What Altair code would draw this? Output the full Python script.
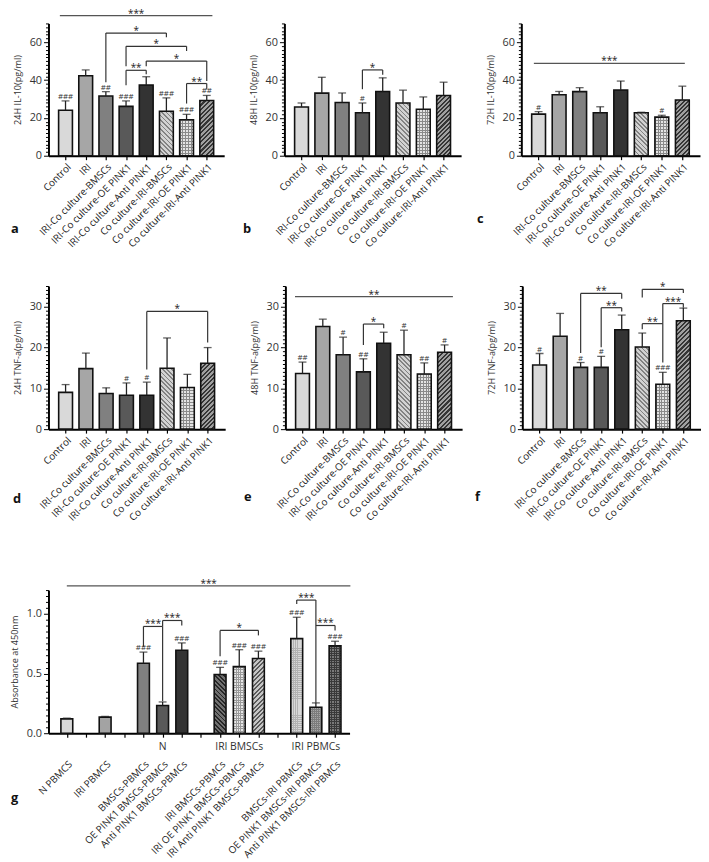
import json
import math
import altair as alt
import pandas as pd

FONT = "Open Sans"

# ---------------- data ----------------
GROUPS8 = ["Control", "IRI", "IRI-Co culture-BMSCs", "IRI-Co culture-OE PINK1",
           "IRI-Co culture-Anti PINK1", "Co culture-IRI-BMSCs",
           "Co culture-IRI-OE PINK1", "Co culture-IRI-Anti PINK1"]
IDX8 = [0, 1, 2, 3, 4, 5, 6, 7]

IL10_24_MEAN = [24.1, 42.3, 31.6, 26.1, 37.4, 23.5, 19.0, 29.2]
IL10_24_SD = [4.9, 3.1, 2.3, 2.9, 4.4, 7.1, 2.9, 2.7]
IL10_24_HASH = ["###", "", "##", "###", "", "###", "###", "##"]
IL10_24_BRACKETS = [(2, 5, 64.9, 38.9, 62.7, "*"), (3, 6, 57.9, 47.3, 55.4, "*"),
                    (4, 7, 50.1, 47.3, 39.5, "*"), (3, 4, 45.2, 37.3, 43.1, "**"),
                    (6, 7, 38.2, 27.6, 35.2, "**")]
IL10_24_SPANS = [(-0.28, 7.28, 74.1, "***")]

IL10_48_MEAN = [25.8, 33.1, 28.2, 22.7, 34.0, 27.9, 24.6, 31.9]
IL10_48_SD = [2.1, 8.4, 5.0, 5.2, 7.2, 6.8, 6.5, 7.0]
IL10_48_HASH = ["", "", "", "#", "", "", "", ""]
IL10_48_BRACKETS = [(3, 4, 45.4, 35.2, 42.9, "*")]
IL10_48_SPANS = []

IL10_72_MEAN = [22.0, 32.3, 33.9, 22.7, 34.8, 22.7, 20.4, 29.5]
IL10_72_SD = [1.3, 1.7, 2.1, 3.2, 4.7, 0.3, 1.0, 7.3]
IL10_72_HASH = ["#", "", "", "", "", "", "#", ""]
IL10_72_BRACKETS = []
IL10_72_SPANS = [(-0.23, 7.12, 48.9, "***")]

TNF_24_MEAN = [9.0, 14.8, 8.7, 8.3, 8.3, 14.9, 10.2, 16.1]
TNF_24_SD = [1.9, 3.8, 1.4, 3.0, 3.2, 7.4, 3.2, 3.85]
TNF_24_HASH = ["", "", "", "#", "#", "", "", ""]
TNF_24_BRACKETS = [(4, 7, 28.8, 14.6, 21.2, "*")]
TNF_24_SPANS = []

TNF_48_MEAN = [13.6, 25.1, 18.2, 14.0, 21.0, 18.2, 13.5, 18.8]
TNF_48_SD = [2.8, 1.8, 4.3, 3.2, 2.7, 6.0, 2.7, 1.8]
TNF_48_HASH = ["##", "", "#", "##", "", "#", "##", "#"]
TNF_48_BRACKETS = [(3, 4, 25.7, 20.6, 24.7, "*")]
TNF_48_SPANS = [(-0.37, 7.41, 32.4, "**")]

TNF_72_MEAN = [15.7, 22.7, 15.1, 15.1, 24.3, 20.1, 11.0, 26.5]
TNF_72_SD = [2.8, 5.6, 1.2, 2.7, 3.6, 3.4, 2.9, 3.1]
TNF_72_HASH = ["#", "", "#", "#", "", "", "###", ""]
TNF_72_BRACKETS = [(2, 4, 33.2, 18.6, 31.9, "**"), (3, 4, 29.7, 20.0, 28.8, "**"),
                   (5, 7, 34.2, 32.2, 33.3, "*"), (5, 6, 25.8, 24.4, 16.3, "**"),
                   (6, 7, 30.7, 25.8, 29.7, "***")]
TNF_72_SPANS = []

G_LABELS = ["N PBMCS", "", "IRI PBMCS", "", "BMSCs-PBMCs", "OE PINK1 BMSCs-PBMCs",
            "Anti PINK1 BMSCs-PBMCs", "", "IRI BMSCs-PBMCs", "IRI OE PINK1 BMSCs-PBMCs",
            "IRI Anti PINK1 BMSCs-PBMCs", "", "BMSCs-IRI PBMCs", "OE PINK1 BMSCs-IRI PBMCs",
            "Anti PINK1 BMSCs-IRI PBMCs"]
G_IDX = [0, 2, 4, 5, 6, 8, 9, 10, 12, 13, 14]
G_MEAN = [0.12, 0.135, 0.586, 0.232, 0.696, 0.492, 0.558, 0.627, 0.793, 0.218, 0.732]
G_SD = [0.006, 0.006, 0.094, 0.030, 0.061, 0.060, 0.142, 0.061, 0.179, 0.036, 0.039]
G_HASH = ["", "", "###", "", "###", "###", "###", "###", "###", "", "###"]
G_BRACKETS = [(4, 5, 0.895, 0.724, 0.268, "***"), (5, 6, 0.945, 0.895, 0.903, "***"),
              (8, 10, 0.862, 0.646, 0.82, "*"), (12, 13, 1.116, 1.083, 0.254, "***"),
              (13, 14, 0.903, 0.903, 0.862, "***")]
G_SPANS = [(0.0, 14.8, 1.235, "***")]
G_GROUP_IDX = [5, 9, 13]
G_GROUP_TXT = ["N", "IRI BMSCs", "IRI PBMCs"]

# ---------------- styles ----------------
FILL8 = {0: "#d9d9d9", 1: "#a6a6a6", 2: "#808080", 3: "#595959", 4: "#333333"}
PAT8 = {5: ("back", "#d2d2d2", "#828282", 3.2, 1.3),
        6: ("check", "#e4e4e4", "#8a8a8a", 3.0, 1.0),
        7: ("fwd", "#a0a0a0", "#363636", 3.2, 1.5)}
FILLG = {0: "#d9d9d9", 2: "#a3a3a3", 4: "#808080", 5: "#595959", 6: "#333333"}
PATG = {8: ("back", "#707070", "#262626", 3.2, 1.4),
        9: ("check", "#e8e8e8", "#9a9a9a", 2.6, 1.0),
        10: ("fwd", "#c6c6c6", "#5a5a5a", 3.2, 1.4),
        12: ("check", "#d8d8d8", "#b2b2b2", 2.0, 0.8),
        13: ("check", "#a8a8a8", "#7c7c7c", 2.0, 0.8),
        14: ("check", "#7a7a7a", "#3a3a3a", 2.4, 1.0)}


def gradient(kind, wpx, hpx, period, lw, bg, fg):
    hpx = max(hpx, 2.0)
    r = hpx / wpx
    if kind in ("back", "fwd"):
        s = (1 + r) / (1 + r * r)
        n = max(1, int(round((wpx + hpx) / (math.sqrt(2) * period))))
        if kind == "back":
            pts = dict(x1=0, y1=1, x2=s, y2=1 - s * r)
        else:
            pts = dict(x1=0, y1=0, x2=s, y2=s * r)
    elif kind == "h":
        n = max(1, int(round(hpx / period)))
        pts = dict(x1=0, y1=0, x2=0, y2=1)
    else:
        n = max(1, int(round(wpx / period)))
        pts = dict(x1=0, y1=0, x2=1, y2=0)
    d = min(lw / period, 0.9)
    stops = []
    for k in range(n):
        o0, o1, o2 = k / n, (k + d) / n, (k + 1) / n
        stops += [{"offset": round(o0, 5), "color": fg}, {"offset": round(o1, 5), "color": fg},
                  {"offset": round(o1, 5), "color": bg}, {"offset": round(o2, 5), "color": bg}]
    out = {"gradient": "linear"}
    out.update({k: round(v, 5) for k, v in pts.items()})
    out["stops"] = stops
    return out


def panel(labels, idxs, means, sds, hashes, brackets, spans, ymax, minor, major, fmt,
          ytitle, letter, ldx, ldy, W, H, xdom, bw, fills, pats, label_pad=2, groups=None):
    test = f"abs(datum.value/{major} - round(datum.value/{major})) < 1e-6"
    nmin = int(round(ymax / minor))
    yvals = [round(i * minor, 4) for i in range(nmin + 1)]
    xaxis = alt.Axis(values=list(range(len(labels))),
                     labelExpr=f"{json.dumps(labels)}[datum.value]",
                     labelAngle=-45, labelOverlap=False, labelFlush=False, labelBound=False,
                     labelLimit=400, labelFontSize=10, labelPadding=label_pad, labelColor="#222",
                     tickSize=4, tickColor="#000", tickWidth=1.2,
                     domainColor="#000", domainWidth=2, grid=False, title=None)
    yaxis = alt.Axis(values=yvals, format=fmt, labelExpr=f"({test}) ? datum.label : ''",
                     tickSize={"condition": {"test": test, "value": 5}, "value": 3},
                     tickColor="#000", tickWidth=1, domainColor="#000", domainWidth=2,
                     labelFontSize=11, labelColor="#333", labelPadding=2, grid=False,
                     title=ytitle, titleFontSize=9.2, titleFontWeight="normal",
                     titleColor="#333", titlePadding=7)
    xs = alt.Scale(domain=xdom, nice=False, zero=False)
    ys = alt.Scale(domain=[0, ymax], nice=False, zero=False)

    def X(f):
        return alt.X(f, type="quantitative", scale=xs, axis=xaxis)

    def Y(f):
        return alt.Y(f, type="quantitative", scale=ys, axis=yaxis)

    df = pd.DataFrame({"i": idxs, "m": means, "e": sds, "h": hashes})
    df["fill"] = [fills.get(i, "#000") for i in idxs]
    layers = []
    plain = df[df["i"].isin(list(fills.keys()))]
    layers.append(alt.Chart(plain).mark_bar(size=bw, stroke="#111", strokeWidth=1.6,
                                            orient="vertical").encode(
        x=X("i"), y=Y("m"), fill=alt.Fill("fill:N", scale=None)))
    for i, (kind, bg, fg, per, lw) in pats.items():
        row = df[df["i"] == i]
        hpx = float(row["m"].iloc[0]) / ymax * H
        if kind == "check":
            g1 = gradient("h", bw, hpx, per, lw, bg, fg)
            g2 = gradient("v", bw, hpx, per, lw, "rgba(0,0,0,0)", fg)
            layers.append(alt.Chart(row).mark_bar(size=bw, fill=g1, strokeWidth=0,
                                                  orient="vertical").encode(x=X("i"), y=Y("m")))
            layers.append(alt.Chart(row).mark_bar(size=bw, fill=g2, stroke="#111", strokeWidth=1.6,
                                                  orient="vertical").encode(x=X("i"), y=Y("m")))
        else:
            g1 = gradient(kind, bw, hpx, per, lw, bg, fg)
            layers.append(alt.Chart(row).mark_bar(size=bw, fill=g1, stroke="#111", strokeWidth=1.6,
                                                  orient="vertical").encode(x=X("i"), y=Y("m")))
    eb = alt.Chart(df).transform_calculate(top="datum.m + datum.e")
    layers.append(eb.mark_rule(color="#222", strokeWidth=1.3).encode(x=X("i"), y=Y("m"), y2="top:Q"))
    layers.append(eb.mark_tick(color="#222", size=8, thickness=1.3, orient="horizontal").encode(
        x=X("i"), y=Y("top:Q")))
    layers.append(eb.mark_text(font=FONT, fontSize=8, color="#333", baseline="alphabetic", dy=-2).encode(
        x=X("i"), y=Y("top:Q"), text="h:N"))
    if brackets:
        bdf = pd.DataFrame(brackets, columns=["x1", "x2", "y", "yl", "yr", "lab"])
        bc = alt.Chart(bdf).transform_calculate(xm="(datum.x1 + datum.x2) / 2")
        layers.append(bc.mark_rule(color="#333", strokeWidth=1.2).encode(x=X("x1"), x2="x2:Q", y=Y("y")))
        layers.append(bc.mark_rule(color="#333", strokeWidth=1.2).encode(x=X("x1"), y=Y("yl"), y2="y:Q"))
        layers.append(bc.mark_rule(color="#333", strokeWidth=1.2).encode(x=X("x2"), y=Y("yr"), y2="y:Q"))
        layers.append(bc.mark_text(font=FONT, fontSize=10, color="#222", baseline="alphabetic", dy=1).encode(
            x=X("xm:Q"), y=Y("y"), text="lab:N"))
    if spans:
        sdf = pd.DataFrame(spans, columns=["x1", "x2", "y", "lab"])
        sc = alt.Chart(sdf).transform_calculate(xm="(datum.x1 + datum.x2) / 2")
        layers.append(sc.mark_rule(color="#555", strokeWidth=1.3).encode(x=X("x1"), x2="x2:Q", y=Y("y")))
        layers.append(sc.mark_text(font=FONT, fontSize=10, color="#222", baseline="alphabetic", dy=1).encode(
            x=X("xm:Q"), y=Y("y"), text="lab:N"))
    if groups:
        gdf = pd.DataFrame({"i": groups[0], "t": groups[1]})
        layers.append(alt.Chart(gdf).mark_text(font=FONT, fontSize=10.5, color="#333",
                                               baseline="middle").encode(
            x=X("i"), y=alt.value(H + 14), text="t:N"))
    ldf = pd.DataFrame({"t": [letter]})
    layers.append(alt.Chart(ldf).mark_text(font=FONT, fontSize=13, fontWeight="bold", color="#111",
                                           align="left", baseline="middle").encode(
        x=alt.value(ldx), y=alt.value(H + ldy), text="t:N"))
    return alt.layer(*layers).properties(width=W, height=H)


XD8 = [-0.6, 7.62]
H1, H2, H3 = 134, 145, 145
a = panel(GROUPS8, IDX8, IL10_24_MEAN, IL10_24_SD, IL10_24_HASH, IL10_24_BRACKETS, IL10_24_SPANS,
          70, 2, 20, "d", "24H IL-10(pg/ml)", "a", -38, 74, 178, H1, XD8, 14, FILL8, PAT8)
b = panel(GROUPS8, IDX8, IL10_48_MEAN, IL10_48_SD, IL10_48_HASH, IL10_48_BRACKETS, IL10_48_SPANS,
          70, 2, 20, "d", "48H IL-10(pg/ml)", "b", -42, 74, 179, H1, XD8, 14, FILL8, PAT8)
c = panel(GROUPS8, IDX8, IL10_72_MEAN, IL10_72_SD, IL10_72_HASH, IL10_72_BRACKETS, IL10_72_SPANS,
          70, 2, 20, "d", "72H IL-10(pg/ml)", "c", -45, 64, 181, H1, XD8, 14, FILL8, PAT8)
d = panel(GROUPS8, IDX8, TNF_24_MEAN, TNF_24_SD, TNF_24_HASH, TNF_24_BRACKETS, TNF_24_SPANS,
          35, 1, 10, "d", "24H TNF-a(pg/ml)", "d", -36, 71, 179, H2, XD8, 14, FILL8, PAT8)
e = panel(GROUPS8, IDX8, TNF_48_MEAN, TNF_48_SD, TNF_48_HASH, TNF_48_BRACKETS, TNF_48_SPANS,
          35, 1, 10, "d", "48H TNF-a(pg/ml)", "e", -42, 69, 179, H2, XD8, 14, FILL8, PAT8)
f = panel(GROUPS8, IDX8, TNF_72_MEAN, TNF_72_SD, TNF_72_HASH, TNF_72_BRACKETS, TNF_72_SPANS,
          35, 1, 10, "d", "72H TNF-a(pg/ml)", "f", -48, 69, 181, H2, XD8, 14, FILL8, PAT8)
g = panel(G_LABELS, G_IDX, G_MEAN, G_SD, G_HASH, G_BRACKETS, G_SPANS,
          1.2, 0.05, 0.5, ".1f", "Absorbance at 450nm", "g", -38, 66, 305, H3, [-0.7, 14.5], 12,
          FILLG, PATG, label_pad=22, groups=(G_GROUP_IDX, G_GROUP_TXT))

row1 = alt.hconcat(a, b, c, spacing=61, bounds="flush")
row2 = alt.hconcat(d, e, f, spacing=61, bounds="flush")
top = alt.vconcat(row1, row2, spacing=33)
chart = alt.vconcat(top, g, spacing=56).configure_view(
    strokeWidth=0).configure_axis(labelFont=FONT, titleFont=FONT).properties(
    padding={"left": 2, "top": -5, "right": 0, "bottom": 10})

chart.save("out.html", embed_options={"renderer": "svg", "actions": False})
